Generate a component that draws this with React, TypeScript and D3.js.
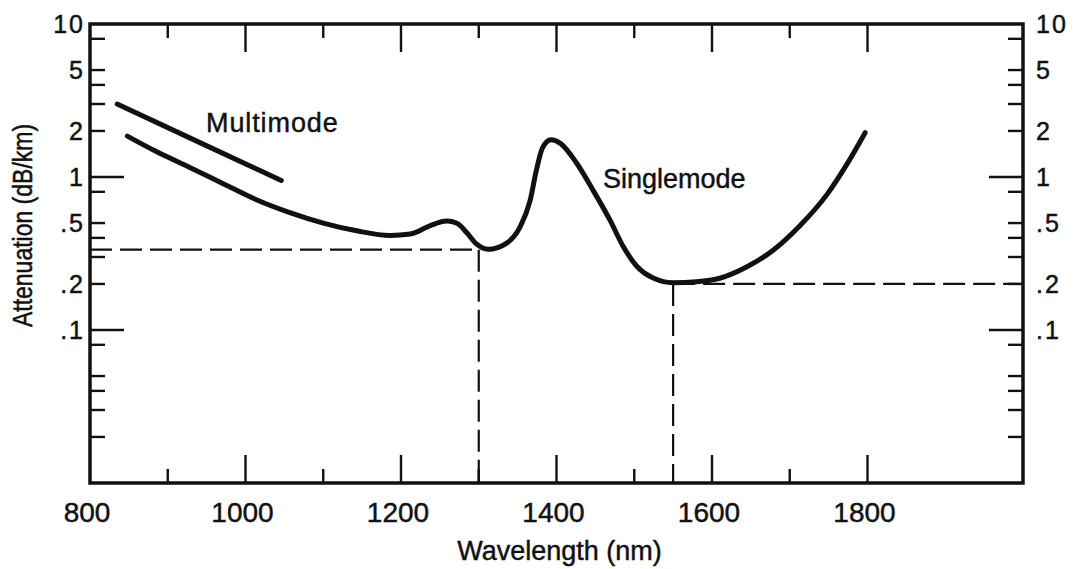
import React, { useMemo } from "react";
import * as d3 from "d3";

// Fibre attenuation spectrum, wavelength (nm) vs attenuation (dB/km)
const singlemodeWavelength = [
  848, 886, 929, 972, 1014, 1057, 1100, 1143, 1186, 1212, 1237, 1259, 1272, 1285,
  1297, 1312, 1336, 1353, 1366, 1374, 1382, 1393, 1405, 1426, 1447, 1469, 1486,
  1503, 1525, 1550, 1580, 1610, 1645, 1679, 1713, 1748, 1773, 1797,
];
const singlemodeAttenuation = [
  1.85, 1.46, 1.15, 0.9, 0.71, 0.585, 0.5, 0.445, 0.415, 0.424, 0.48, 0.515, 0.498,
  0.43, 0.365, 0.337, 0.37, 0.47, 0.7, 1.1, 1.55, 1.75, 1.66, 1.23, 0.82, 0.52,
  0.35, 0.262, 0.218, 0.204, 0.207, 0.218, 0.259, 0.333, 0.48, 0.77, 1.2, 1.95,
];

const multimodeWavelength = [835, 940, 1046];
const multimodeAttenuation = [3.0, 1.69, 0.95];

// Operating windows marked with dashed guide lines
const windowWavelength = [1300, 1550];
const windowAttenuation = [0.335, 0.2];
const windowSide = ["left", "right"];

const xTickValues = [900, 1000, 1100, 1200, 1300, 1400, 1500, 1600, 1700, 1800];
const xLabelValues = [800, 1000, 1200, 1400, 1600, 1800];

const yMinorTicks = [8, 5, 4, 3, 2, 0.8, 0.5, 0.4, 0.3, 0.2, 0.08, 0.05, 0.04, 0.03, 0.02];
const yMajorTicks = [1, 0.1];
const yLabelValues = [10, 5, 2, 1, 0.5, 0.2, 0.1];
const yLabelText = ["10", "5", "2", "1", ".5", ".2", ".1"];

const W = 1075;
const H = 569;
const LEFT = 90;
const RIGHT = 1023;
const TOP = 24;
const BOTTOM = 483;
const FONT = "'Liberation Sans', Arial, Helvetica, sans-serif";
const INK = "#111";

export default function App() {
  const x = useMemo(() => d3.scaleLinear().domain([800, 2000]).range([LEFT, RIGHT]), []);
  const y = useMemo(() => d3.scaleLog().domain([0.01, 10]).range([BOTTOM, TOP]), []);

  const line = useMemo(
    () =>
      d3
        .line<[number, number]>()
        .x((d) => x(d[0]))
        .y((d) => y(d[1]))
        .curve(d3.curveMonotoneX),
    [x, y]
  );

  const singlePath = line(
    singlemodeWavelength.map((w, i) => [w, singlemodeAttenuation[i]] as [number, number])
  ) as string;
  const multiPath = line(
    multimodeWavelength.map((w, i) => [w, multimodeAttenuation[i]] as [number, number])
  ) as string;

  const majorX = (v: number) => v % 200 === 0;
  const textInk = { fill: INK, stroke: INK, strokeWidth: 0.45 };

  return (
    <svg
      width={W}
      height={H}
      viewBox={`0 0 ${W} ${H}`}
      style={{ position: "absolute", left: 0, top: 0, background: "#fff" }}
    >
      <rect x={0} y={0} width={W} height={H} fill="#fff" />

      {/* dashed window guides */}
      <g stroke={INK} strokeWidth={2.2} strokeDasharray="22 8" fill="none">
        {windowWavelength.map((w, i) => {
          const yy = y(windowAttenuation[i]);
          const xx = x(w);
          const x0 = windowSide[i] === "left" ? x(800) : xx;
          const x1 = windowSide[i] === "left" ? xx : x(2000);
          return (
            <g key={w}>
              <line x1={x0} x2={x1} y1={yy} y2={yy} />
              <line x1={xx} x2={xx} y1={yy} y2={BOTTOM} />
            </g>
          );
        })}
      </g>

      {/* ticks on all four sides */}
      <g stroke={INK} strokeWidth={2.4}>
        {xTickValues.map((v) => {
          const len = majorX(v) ? 28 : 14;
          return (
            <g key={`xt${v}`}>
              <line x1={x(v)} x2={x(v)} y1={TOP} y2={TOP + len} />
              <line x1={x(v)} x2={x(v)} y1={BOTTOM} y2={BOTTOM - len} />
            </g>
          );
        })}
        {yMinorTicks.map((v) => (
          <g key={`ym${v}`}>
            <line x1={LEFT} x2={LEFT + 15} y1={y(v)} y2={y(v)} />
            <line x1={RIGHT} x2={RIGHT - 15} y1={y(v)} y2={y(v)} />
          </g>
        ))}
        {yMajorTicks.map((v) => (
          <g key={`yM${v}`}>
            <line x1={LEFT} x2={LEFT + 34} y1={y(v)} y2={y(v)} />
            <line x1={RIGHT} x2={RIGHT - 34} y1={y(v)} y2={y(v)} />
          </g>
        ))}
      </g>

      {/* frame */}
      <rect
        x={LEFT}
        y={TOP}
        width={RIGHT - LEFT}
        height={BOTTOM - TOP}
        fill="none"
        stroke={INK}
        strokeWidth={3.5}
      />

      {/* attenuation curves */}
      <path d={multiPath} fill="none" stroke={INK} strokeWidth={5} strokeLinecap="round" strokeLinejoin="round" />
      <path d={singlePath} fill="none" stroke={INK} strokeWidth={5} strokeLinecap="round" strokeLinejoin="round" />

      {/* tick labels */}
      <g fontFamily={FONT} {...textInk}>
        {xLabelValues.map((v) => (
          <text key={`xl${v}`} x={x(v) - 3} y={522} fontSize={28} textAnchor="middle">
            {v}
          </text>
        ))}
        {yLabelValues.map((v, i) => (
          <g key={`yl${v}`}>
            <text x={85} y={y(v)} dy="0.36em" fontSize={25} textAnchor="end" letterSpacing={2}>
              {yLabelText[i]}
            </text>
            <text x={1036} y={y(v)} dy="0.36em" fontSize={25} textAnchor="start" letterSpacing={2}>
              {yLabelText[i]}
            </text>
          </g>
        ))}
      </g>

      {/* axis titles */}
      <text
        x={(LEFT + RIGHT) / 2 + 3}
        y={560}
        fontFamily={FONT}
        fontSize={27}
        textAnchor="middle"
        {...textInk}
      >
        Wavelength (nm)
      </text>
      <text
        transform={`translate(32, ${(TOP + BOTTOM) / 2 - 28}) rotate(-90) scale(1, 1.18)`}
        fontFamily={FONT}
        fontSize={23}
        textAnchor="middle"
        {...textInk}
      >
        Attenuation (dB/km)
      </text>

      {/* curve labels */}
      <text x={206} y={132} fontFamily={FONT} fontSize={27} letterSpacing={0.9} {...textInk}>
        Multimode
      </text>
      <text x={603} y={188} fontFamily={FONT} fontSize={27} {...textInk}>
        Singlemode
      </text>
    </svg>
  );
}
